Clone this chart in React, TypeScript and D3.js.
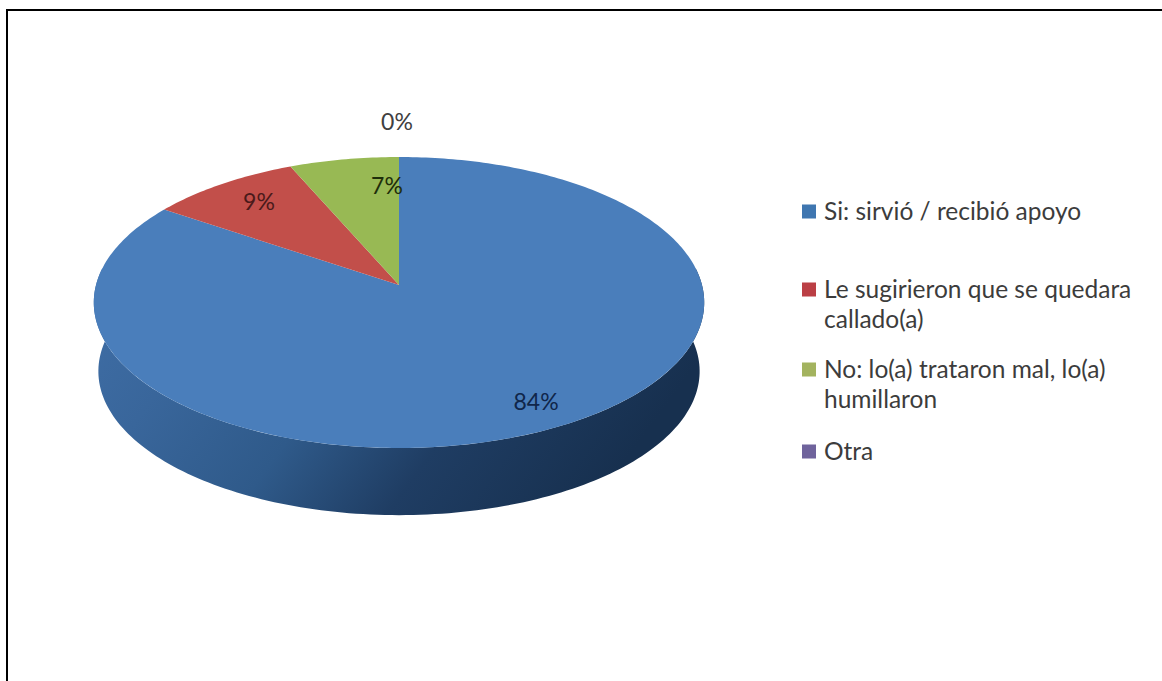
import React from "react";
import * as d3 from "d3";

const categories = ["Si: sirvió / recibió apoyo", "Le sugirieron que se quedara callado(a)", "No: lo(a) trataron mal, lo(a) humillaron", "Otra"];
const legendLines = [["Si: sirvió / recibió apoyo"], ["Le sugirieron que se quedara", "callado(a)"], ["No: lo(a) trataron mal, lo(a)", "humillaron"], ["Otra"]];
const values = [84.49, 9.0, 6.51, 0.0];
const colors = ["#4a7ebb", "#c24f4a", "#98b954", "#7d60a0"];
const legendColors = ["#3f76b0", "#bb3f45", "#a3b35f", "#6f639c"];
const labelColors = ["#10264a", "#4a1a1a", "#1e2e0a", "#404040"];
const legendY = [212, 290, 370, 452];

// Perspective of the pie's top face
const cx = 399, apexY = 285, topY = 157, bottomY = 448, R = 303;
const c = (2 * apexY - topY - bottomY) / (bottomY - topY);
const a = apexY - topY + topY * c;
const depth = 69;

function project(angle: number, r = 1, scale = 1, dy = 0): [number, number] {
  const x = Math.sin(angle) * r;
  const y = -Math.cos(angle) * r;
  const den = 1 + c * y;
  return [cx + (R * scale * x) / den, (a * y * scale + apexY) / den + dy];
}

const pie = d3.pie<number>().sort(null).startAngle(0).endAngle(2 * Math.PI);
const arcs = pie(values);
const line = d3.line();

function slicePath(s: number, e: number) {
  const n = Math.max(2, Math.ceil((e - s) * 60));
  const pts: [number, number][] = [project(0, 0)];
  d3.range(n + 1).forEach((i) => pts.push(project(s + ((e - s) * i) / n)));
  return line(pts) + "Z";
}

function wallPath() {
  const n = 160;
  const s = Math.PI / 2 - 0.12, e = (3 * Math.PI) / 2 + 0.12;
  const angles = d3.range(n + 1).map((i) => s + ((e - s) * i) / n);
  const top = angles.map((t) => project(t));
  const bottom = angles.slice().reverse().map((t) => project(t, 1, 0.985, depth));
  return line([...top, ...bottom]) + "Z";
}

const labelPos: [number, number][] = [[536, 404], [259, 204], [387, 188], [397, 124]];

export default function App() {
  return (
    <svg width={1162} height={681} style={{ position: "absolute", left: 0, top: 0, background: "#fff" }}>
      <defs>
        <linearGradient id="wall" x1="0" x2="1" y1="0.05" y2="0.35">
          <stop offset="0" stopColor="#3f6ea6" />
          <stop offset="0.22" stopColor="#39669b" />
          <stop offset="0.47" stopColor="#2f5a8a" />
          <stop offset="0.7" stopColor="#1f3d63" />
          <stop offset="1" stopColor="#17304f" />
        </linearGradient>
      </defs>
      <path d="M7 681V10H1162" fill="none" stroke="#000" strokeWidth={2} />
      <path d={wallPath()} fill="url(#wall)" />
      {arcs.map((d, i) => (
        <path key={i} d={slicePath(d.startAngle, d.endAngle)} fill={colors[i]} />
      ))}
      <g fontFamily="Lato, 'Open Sans', sans-serif">
        {arcs.map((d, i) => (
          <text key={i} x={labelPos[i][0]} y={labelPos[i][1]} fontSize={23} textAnchor="middle" dominantBaseline="middle" fill={labelColors[i]}>
            {Math.round(d.data)}%
          </text>
        ))}
        {categories.map((cat, i) => (
          <g key={cat}>
            <rect x={802} y={legendY[i] - 7.5} width={14} height={14} fill={legendColors[i]} />
            {legendLines[i].map((t, j) => (
              <text key={j} x={824} y={legendY[i] + 8 + j * 30} fontSize={24.5} fill="#3c3c3c">{t}</text>
            ))}
          </g>
        ))}
      </g>
    </svg>
  );
}
